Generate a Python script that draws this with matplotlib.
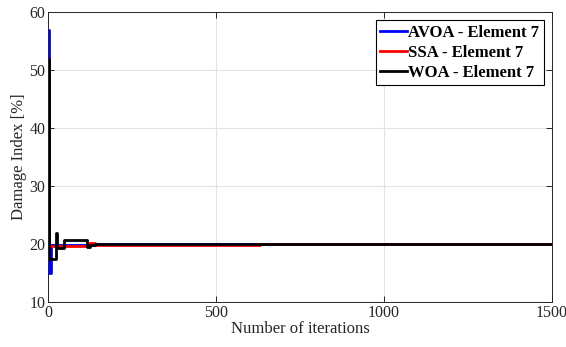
import numpy as np
import matplotlib as mpl
from matplotlib import pyplot as plt

# step breakpoints (iteration, damage index %)
avoa_iter = [1, 3, 8, 140, 1500]
avoa_val = [57.0, 15.0, 19.9, 20.0, 20.0]

ssa_iter = [1, 120, 140, 630, 1500]
ssa_val = [19.7, 20.2, 19.8, 20.0, 20.0]

woa_iter = [1, 4, 24, 27, 46, 115, 125, 140, 1500]
woa_val = [52.0, 17.4, 21.9, 19.3, 20.7, 19.5, 19.8, 20.0, 20.0]

labels = ["AVOA - Element 7", "SSA - Element 7", "WOA - Element 7"]

mpl.rcParams['font.family'] = ['Liberation Serif', 'DejaVu Serif']

fig = plt.figure(figsize=(5.66, 3.47), dpi=100)
ax = fig.add_axes([0.085, 0.130, 0.890, 0.835])

ax.plot(avoa_iter, avoa_val, drawstyle='steps-post', color='#0000ff', lw=2, label=labels[0])
ax.plot(ssa_iter, ssa_val, drawstyle='steps-post', color='#ff0000', lw=2, label=labels[1])
ax.plot(woa_iter, woa_val, drawstyle='steps-post', color='black', lw=2, label=labels[2])

ax.set_xlim(0, 1500)
ax.set_ylim(10, 60)
ax.set_xticks([0, 500, 1000, 1500])
ax.set_yticks([10, 20, 30, 40, 50, 60])
ax.grid(True, color='#e3e3e3', lw=0.8)
ax.set_axisbelow(True)

ax.tick_params(direction='in', top=True, right=True, labelsize=11.5,
               colors='#262626', length=4, width=0.7, pad=2)
for s in ax.spines.values():
    s.set_color('#262626')
    s.set_linewidth(0.7)

ax.set_xlabel("Number of iterations", fontsize=12, color='#262626', labelpad=0)
ax.set_ylabel("Damage Index [%]", fontsize=12, color='#262626', labelpad=2)

leg = ax.legend(loc='upper right', fancybox=False, framealpha=1, edgecolor='black',
                prop={'weight': 'bold', 'size': 12}, handlelength=1.6,
                handletextpad=0.1, borderpad=0.25, labelspacing=0.25,
                borderaxespad=0.5)
leg.get_frame().set_linewidth(0.8)

fig.savefig("out.png", dpi=100)
